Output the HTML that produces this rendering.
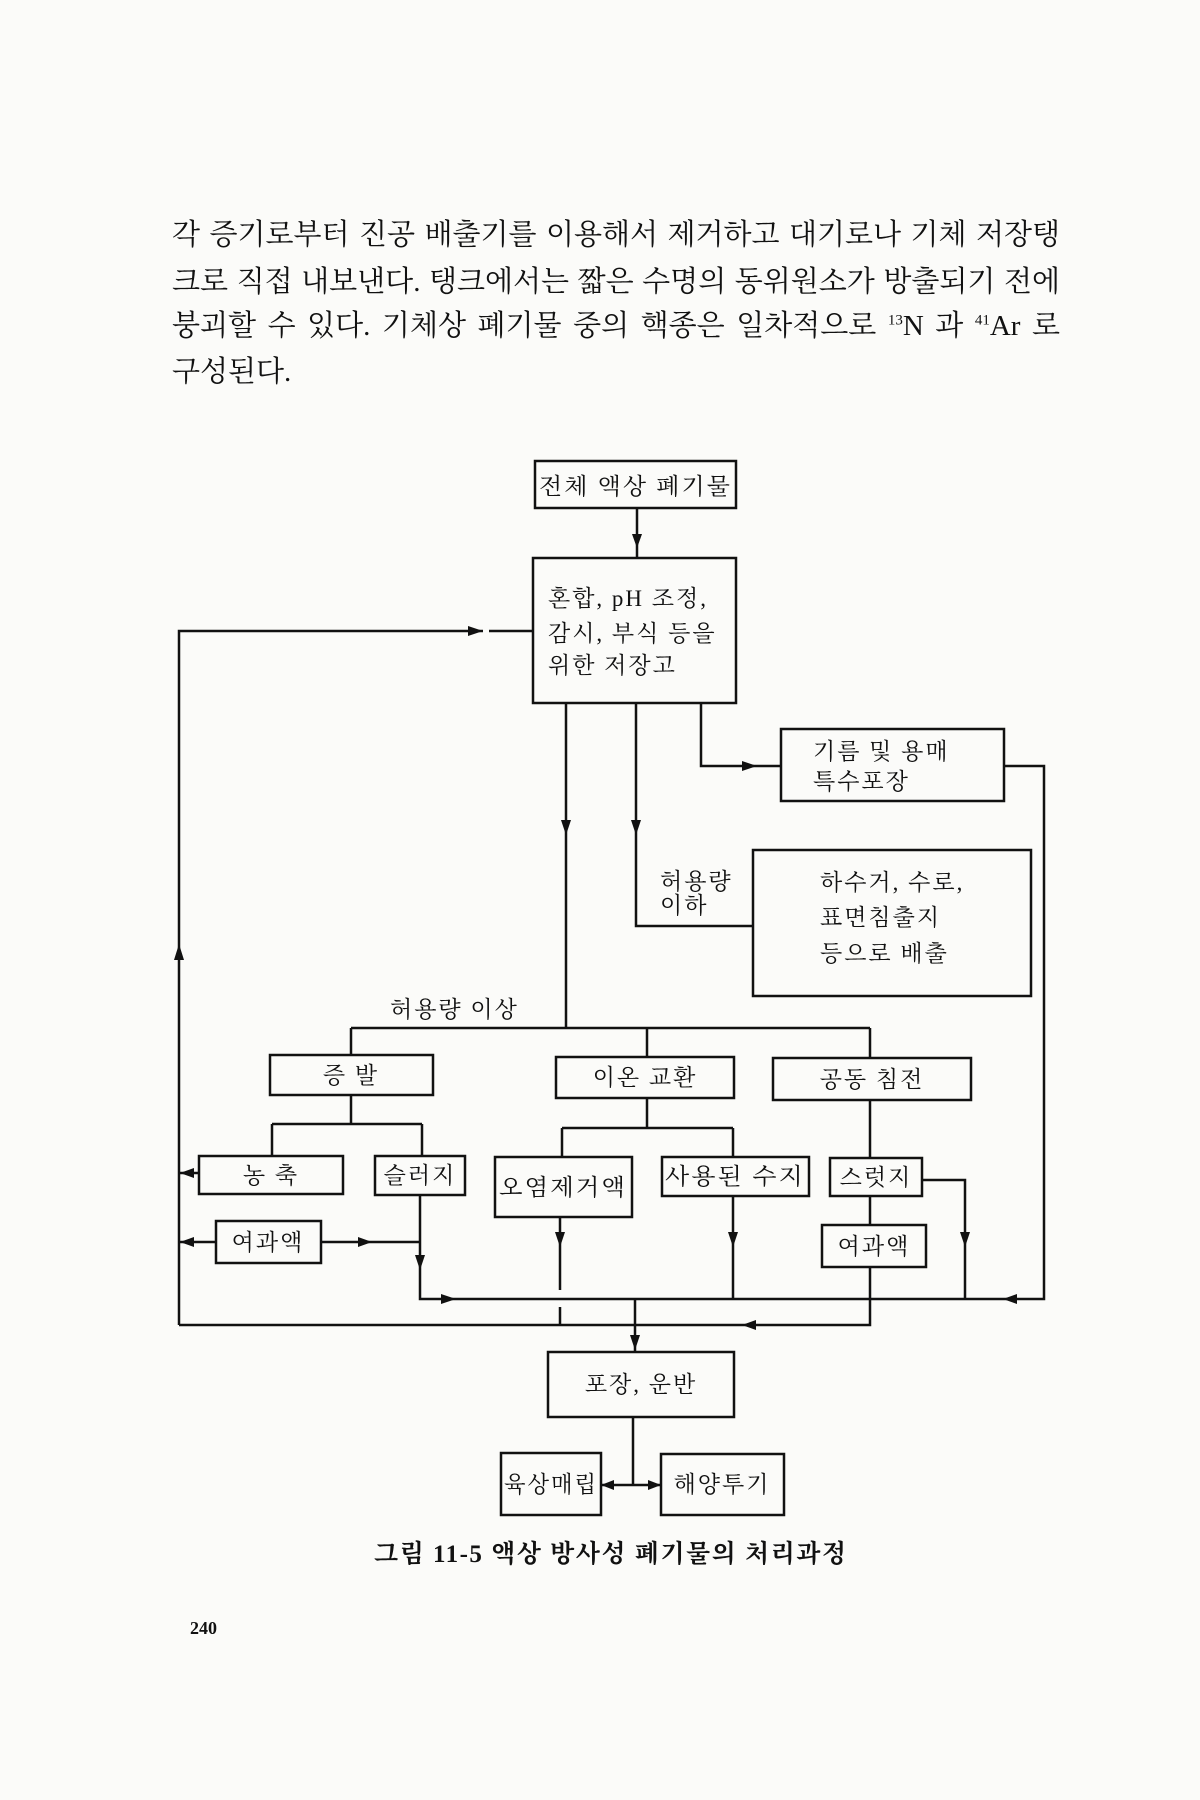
<!DOCTYPE html>
<html><head><meta charset="utf-8"><style>
html,body{margin:0;padding:0;background:#fbfbf9;}
body{width:1200px;height:1800px;position:relative;overflow:hidden;}
.p{position:absolute;left:172px;width:888px;font-family:"Liberation Serif","Noto Serif CJK SC",serif;font-size:29px;color:#111;text-align:justify;text-align-last:justify;white-space:nowrap;}
svg text{font-family:"Liberation Serif","Noto Serif CJK SC",serif;fill:#111;}
.d text{letter-spacing:2px;}
</style></head><body>
<div class="p" style="top:212px;">각 증기로부터 진공 배출기를 이용해서 제거하고 대기로나 기체 저장탱</div>
<div class="p" style="top:259px;">크로 직접 내보낸다. 탱크에서는 짧은 수명의 동위원소가 방출되기 전에</div>
<div class="p" style="top:303px;">붕괴할 수 있다. 기체상 폐기물 중의 핵종은 일차적으로 <sup style="font-size:15px">13</sup>N 과 <sup style="font-size:15px">41</sup>Ar 로</div>
<div class="p" style="top:349px;text-align-last:left;width:auto;">구성된다.</div>
<svg width="1200" height="1800" style="position:absolute;left:0;top:0" xmlns="http://www.w3.org/2000/svg">
<g fill="none" stroke="#111" stroke-width="2.5">
<rect x="535" y="461" width="201" height="47"/>
<rect x="533" y="558" width="203" height="145"/>
<rect x="781" y="729" width="223" height="72"/>
<rect x="753" y="850" width="278" height="146"/>
<rect x="270" y="1055" width="163" height="40"/>
<rect x="556" y="1057" width="178" height="41"/>
<rect x="773" y="1058" width="198" height="42"/>
<rect x="199" y="1156" width="144" height="38"/>
<rect x="375" y="1156" width="90" height="39"/>
<rect x="216" y="1221" width="105" height="42"/>
<rect x="495" y="1157" width="137" height="60"/>
<rect x="662" y="1157" width="147" height="39"/>
<rect x="830" y="1158" width="92" height="38"/>
<rect x="822" y="1225" width="104" height="42"/>
<rect x="548" y="1352" width="186" height="65"/>
<rect x="501" y="1453" width="100" height="62"/>
<rect x="661" y="1454" width="123" height="61"/>
<path d="M637 508V558"/>
<path d="M179 1325V631H483M489 631H533"/>
<path d="M566 703V1028M636 703V926H753M701 703V766H781"/>
<path d="M1004 766H1044V1299H420V1195"/>
<path d="M351 1028H870M351 1028V1055M647 1028V1057M870 1028V1058"/>
<path d="M351 1095V1124M272 1124H422M272 1124V1156M422 1124V1156"/>
<path d="M647 1098V1128M562 1128H733M562 1128V1157M733 1128V1157"/>
<path d="M870 1100V1158M870 1196V1225M870 1267V1325H179"/>
<path d="M922 1180H965V1299"/>
<path d="M179 1242H216M321 1242H420M179 1173H199"/>
<path d="M560 1217V1290M560 1307V1325M733 1196V1299"/>
<path d="M635 1299V1352M633 1417V1485M601 1485H661"/>
</g>
<g fill="#111">
<polygon points="632,534 642,534 637,548"/>
<polygon points="468,626 468,636 483,631"/>
<polygon points="174,960 184,960 179,944"/>
<polygon points="561,820 571,820 566,835"/>
<polygon points="631,820 641,820 636,835"/>
<polygon points="742,761 742,771 757,766"/>
<polygon points="194,1168 194,1178 180,1173"/>
<polygon points="194,1237 194,1247 180,1242"/>
<polygon points="358,1237 358,1247 372,1242"/>
<polygon points="415,1255 425,1255 420,1270"/>
<polygon points="441,1294 441,1304 456,1299"/>
<polygon points="555,1232 565,1232 560,1247"/>
<polygon points="728,1232 738,1232 733,1247"/>
<polygon points="960,1232 970,1232 965,1247"/>
<polygon points="1017,1294 1017,1304 1003,1299"/>
<polygon points="756,1320 756,1330 742,1325"/>
<polygon points="630,1335 640,1335 635,1350"/>
<polygon points="614,1480 614,1490 601,1485"/>
<polygon points="648,1480 648,1490 661,1485"/>
</g>
<g font-size="23" class="d">
<text x="539" y="494" textLength="193" lengthAdjust="spacingAndGlyphs">전체 액상 폐기물</text>
<text x="548" y="606">혼합, pH 조정,</text>
<text x="548" y="641">감시, 부식 등을</text>
<text x="548" y="673">위한 저장고</text>
<text x="813" y="759">기름 및 용매</text>
<text x="813" y="789">특수포장</text>
<text x="820" y="890">하수거, 수로,</text>
<text x="820" y="925">표면침출지</text>
<text x="820" y="961">등으로 배출</text>
<text x="660" y="889">허용량</text>
<text x="660" y="913">이하</text>
<text x="390" y="1017">허용량 이상</text>
<text x="351" y="1083" text-anchor="middle">증  발</text>
<text x="645" y="1085" text-anchor="middle">이온 교환</text>
<text x="872" y="1087" text-anchor="middle">공동 침전</text>
<text x="271" y="1183" text-anchor="middle">농  축</text>
<text x="420" y="1183" text-anchor="middle">슬러지</text>
<text x="268" y="1250" text-anchor="middle">여과액</text>
<text x="563" y="1195" text-anchor="middle" textLength="128" lengthAdjust="spacingAndGlyphs">오염제거액</text>
<text x="735" y="1184" text-anchor="middle" textLength="140" lengthAdjust="spacingAndGlyphs">사용된 수지</text>
<text x="876" y="1185" text-anchor="middle">스럿지</text>
<text x="874" y="1254" text-anchor="middle">여과액</text>
<text x="641" y="1392" text-anchor="middle">포장, 운반</text>
<text x="551" y="1492" text-anchor="middle" textLength="94" lengthAdjust="spacingAndGlyphs">육상매립</text>
<text x="722" y="1492" text-anchor="middle">해양투기</text>
</g>
<text x="374" y="1562" font-size="25" font-weight="bold" textLength="472">그림 11-5  액상 방사성 폐기물의 처리과정</text>
<text x="190" y="1634" font-size="18" font-weight="bold">240</text>
</svg>
</body></html>
